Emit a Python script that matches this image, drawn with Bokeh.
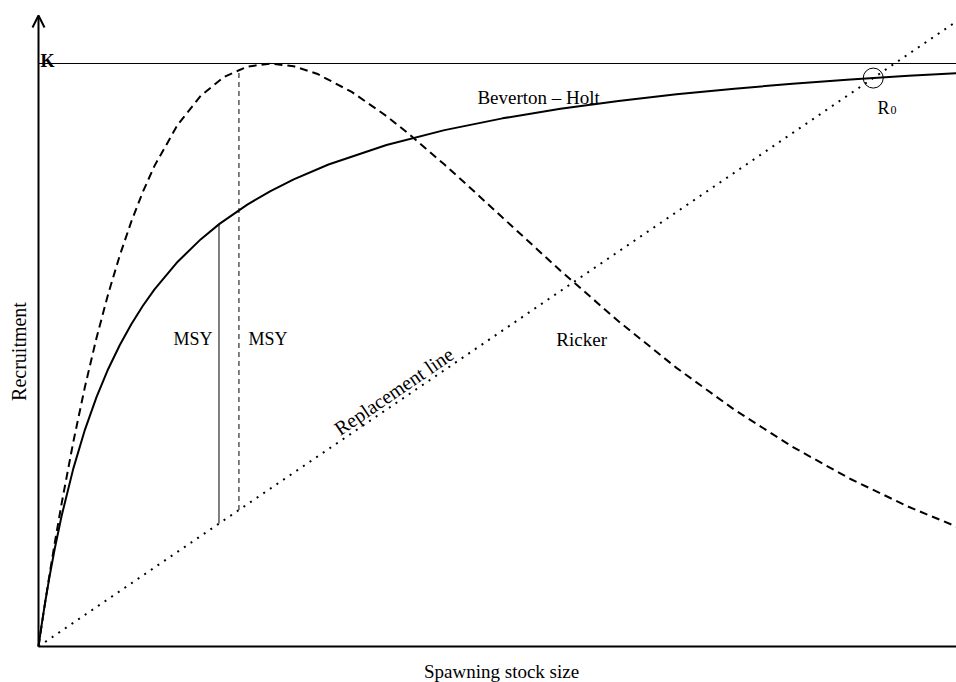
from bokeh.plotting import figure
from bokeh.models import Range1d, Arrow, OpenHead, Label
from bokeh.embed import file_html
from bokeh.resources import INLINE

# Stock size S (unit = Ricker peak stock), recruitment R (unit = K)
bh_s = [0, 0.01, 0.02, 0.03, 0.05, 0.07, 0.1, 0.15, 0.2, 0.25, 0.3, 0.35, 0.4, 0.45, 0.5,
        0.6, 0.7, 0.78, 0.9, 1.0, 1.1, 1.25, 1.5, 1.75, 2.0, 2.25, 2.5, 2.75, 3.0, 3.25,
        3.5, 3.75, 3.96]
bh_r = [0, 0.0276, 0.0539, 0.0789, 0.1253, 0.1677, 0.2246, 0.3051, 0.3717, 0.4278, 0.4756,
        0.5168, 0.5528, 0.5845, 0.6125, 0.6600, 0.6987, 0.7249, 0.7580, 0.7812, 0.8012,
        0.8267, 0.8601, 0.8857, 0.9059, 0.9223, 0.9358, 0.9471, 0.9568, 0.9652, 0.9724,
        0.9788, 0.9836]

ricker_s = [0, 0.01, 0.02, 0.03, 0.05, 0.07, 0.1, 0.15, 0.2, 0.25, 0.3, 0.35, 0.4, 0.45,
            0.5, 0.6, 0.7, 0.8, 0.9, 1.0, 1.1, 1.2, 1.35, 1.5, 1.6, 1.75, 1.85, 2.0, 2.25,
            2.5, 2.75, 3.0, 3.25, 3.5, 3.75, 3.96]
ricker_r = [0, 0.0269, 0.0533, 0.0791, 0.1293, 0.1774, 0.2460, 0.3509, 0.4451, 0.5293,
            0.6041, 0.6704, 0.7288, 0.7800, 0.8244, 0.8951, 0.9449, 0.9771, 0.9947, 1.0,
            0.9953, 0.9825, 0.9513, 0.9098, 0.8781, 0.8266, 0.7907, 0.7358, 0.6446, 0.5578,
            0.4779, 0.4060, 0.3425, 0.2873, 0.2397, 0.2051]

replacement_s = [0, 4.1]
replacement_r = [0, 1.111]

K = 1.0
msy_bh_s = 0.778
msy_bh_r = [0.2108, 0.7240]
msy_ricker_s = 0.864
msy_ricker_r = [0.2341, 0.9899]
r0_s = 3.598
r0_r = 0.975

x_lo, x_hi = -0.16379, 3.95690
y_lo, y_hi = -0.06175, 1.10806
y_axis_top = 1.0823

FONT = "Liberation Serif"

p = figure(width=956, height=682, x_range=Range1d(x_lo, x_hi), y_range=Range1d(y_lo, y_hi),
           toolbar_location=None, output_backend="svg", x_axis_type=None, y_axis_type=None,
           min_border=0, outline_line_color=None)
p.grid.visible = False
p.background_fill_color = "white"
p.border_fill_color = "white"

# K line
p.line([0, 4.1], [K, K], line_color="black", line_width=1)

# replacement line (dotted)
p.line(replacement_s, replacement_r, line_color="black", line_width=2, line_dash="2 6")

# Ricker (dashed)
p.line(ricker_s, ricker_r, line_color="black", line_width=2, line_dash="8 5")

# Beverton-Holt (solid)
p.line(bh_s, bh_r, line_color="black", line_width=2)

# MSY verticals
p.line([msy_bh_s, msy_bh_s], msy_bh_r, line_color="black", line_width=1)
p.line([msy_ricker_s, msy_ricker_s], msy_ricker_r, line_color="black", line_width=1,
       line_dash="5 4")

# R0 circle
p.scatter([r0_s], [r0_r], size=20, marker="circle", fill_color=None, line_color="black",
          line_width=1)

# axes
p.add_layout(Arrow(end=OpenHead(size=12, line_width=2, line_color="black"),
                   x_start=0, y_start=0, x_end=4.02, y_end=0,
                   line_width=2, line_color="black"))
p.add_layout(Arrow(end=OpenHead(size=12, line_width=2, line_color="black"),
                   x_start=0, y_start=0, x_end=0, y_end=y_axis_top,
                   line_width=2, line_color="black"))

def lab(x, y, t, size=18, style="normal", angle=0.0, align="left", baseline="alphabetic"):
    p.add_layout(Label(x=x, y=y, text=t, text_font=FONT, text_font_size=f"{size}px",
                       text_font_style=style, angle=angle, text_align=align,
                       text_baseline=baseline, text_color="black"))

lab(0.0086, 1.005, "K", size=18, style="bold")
lab(1.892, 0.9417, "Beverton \u2013 Holt", size=19)
lab(2.232, 0.527, "Ricker", size=19)
lab(0.582, 0.5266, "MSY")
lab(0.905, 0.5266, "MSY")
lab(1.284, 0.3705, "Replacement line", size=20, angle=0.598)
lab(3.616, 0.9245, "R")
lab(3.672, 0.9194, "0", size=12)
lab(-0.0862, 0.506, "Recruitment", size=20, angle=1.5708, align="center", baseline="middle")
lab(1.996, -0.0430, "Spawning stock size", size=19, align="center")

open("out.html", "w").write(file_html(p, INLINE))
